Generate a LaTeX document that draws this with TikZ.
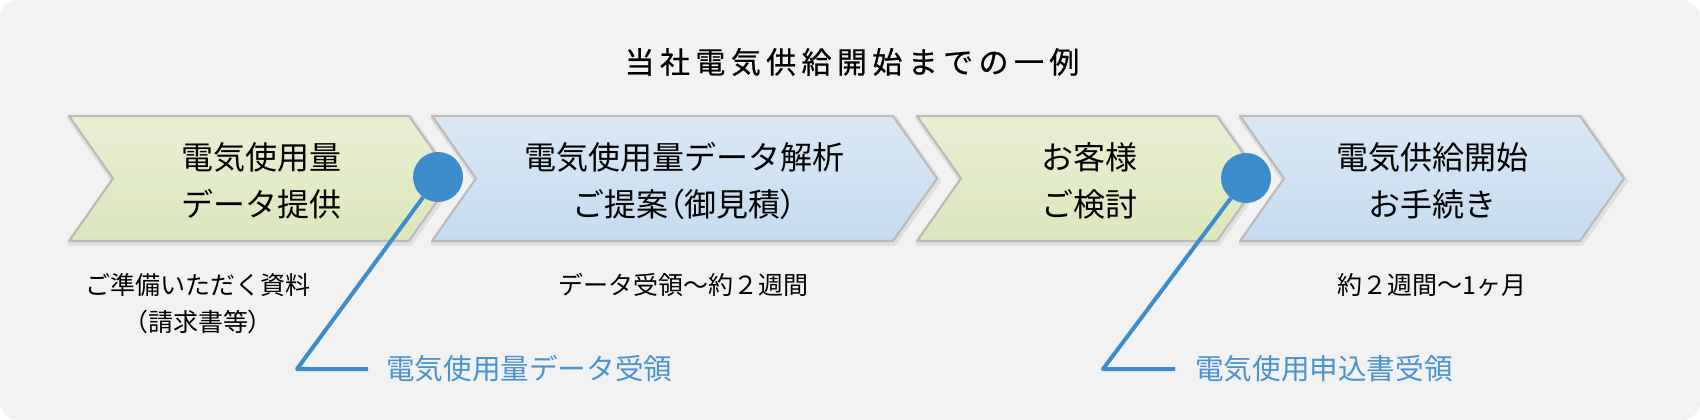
\documentclass[tikz,border=0pt]{standalone}
\usepackage{fontspec}
\setmainfont{Noto Sans CJK JP}
\newfontfamily\jptitle[LetterSpace=18,FakeBold=0.6]{Noto Sans CJK JP}
\newcommand\pbr[1]{{\addfontfeature{RawFeature=+palt}#1}}
\definecolor{bgc}{HTML}{F2F2F2}
\definecolor{gtop}{HTML}{E9F0D3}
\definecolor{gbot}{HTML}{DCE6BC}
\definecolor{btop}{HTML}{DAE8F5}
\definecolor{bbot}{HTML}{C5DBF0}
\definecolor{edge}{HTML}{BBBBBB}
\definecolor{accent}{HTML}{3D8CCB}
\definecolor{labblue}{HTML}{4A92D0}
\newcommand\chevpath[2]{({#1},116) -- ({#2-44},116) -- ({#2},178.5) -- ({#2-44},241) -- ({#1},241) -- ({#1+44},178.5) -- cycle}
\tikzset{
  chevshadow/.style={draw=black, opacity=0.07, line width=6pt, line join=round},
  chevgreen/.style={top color=gtop, bottom color=gbot, draw=edge, line width=2.2pt, line join=round},
  chevblue/.style={top color=btop, bottom color=bbot, draw=edge, line width=2.2pt, line join=round},
  maintext/.style={align=center, inner sep=0pt, font=\fontsize{32}{47}\selectfont},
  captext/.style={align=center, inner sep=0pt, font=\fontsize{25}{37}\selectfont},
  labtext/.style={anchor=west, inner sep=0pt, text=labblue, font=\fontsize{28.6}{34}\selectfont},
  dot/.style={circle, fill=accent, minimum size=50pt, inner sep=0pt},
  conn/.style={draw=accent, line width=4pt, line join=round}
}
\begin{document}
\begin{tikzpicture}[x=1pt,y=-1pt]
\useasboundingbox (0,0) rectangle (1700,420);
\fill[bgc, rounded corners=18pt] (0,0) rectangle (1700,420);
% title
\node[inner sep=0pt, font=\fontsize{30}{36}\selectfont] (title) at (852,62) {\jptitle 当社電気供給開始までの一例};
% shadows
\foreach \a/\b in {69/453, 432/937, 917/1261, 1240/1624}{
  \draw[chevshadow] ([shift={(1,2)}]{\a},116) -- ([shift={(1,2)}]{\b-44},116) -- ([shift={(1,2)}]{\b},178.5) -- ([shift={(1,2)}]{\b-44},241) -- ([shift={(1,2)}]{\a},241) -- ([shift={(1,2)}]{\a+44},178.5) -- cycle;
}
% chevrons
\path[chevgreen] \chevpath{69}{453};
\path[chevblue] \chevpath{432}{937};
\path[chevgreen] \chevpath{917}{1261};
\path[chevblue] \chevpath{1240}{1624};
% texts
\node[maintext] (s1) at (261,180.5) {電気使用量\\データ提供};
\node[maintext] (s2) at (684.5,180.5) {電気使用量データ解析\\ご提案\pbr{（}御見積\pbr{）}};
\node[maintext] (s3) at (1089,180.5) {お客様\\ご検討};
\node[maintext] (s4) at (1432,180.5) {電気供給開始\\お手続き};
% captions
\node[captext] (c1) at (198,303.5) {ご準備いただく資料\\\pbr{（}請求書等\pbr{）}};
\node[captext] (c2) at (683,285) {データ受領〜約２週間};
\node[captext] (c4) at (1432,285) {約２週間〜1ヶ月};
% markers
\node[dot] (d1) at (438,177) {};
\node[dot] (d2) at (1246,178) {};
\coordinate (k1) at (297,369);
\coordinate (e1) at (368,369);
\coordinate (k2) at (1103,369);
\coordinate (e2) at (1175,369);
\draw[conn] (d1) -- (k1) -- (e1);
\draw[conn] (d2) -- (k2) -- (e2);
\node[labtext] (l1) at (386,369) {電気使用量データ受領};
\node[labtext] (l2) at (1195,369) {電気使用申込書受領};
\end{tikzpicture}
\end{document}
